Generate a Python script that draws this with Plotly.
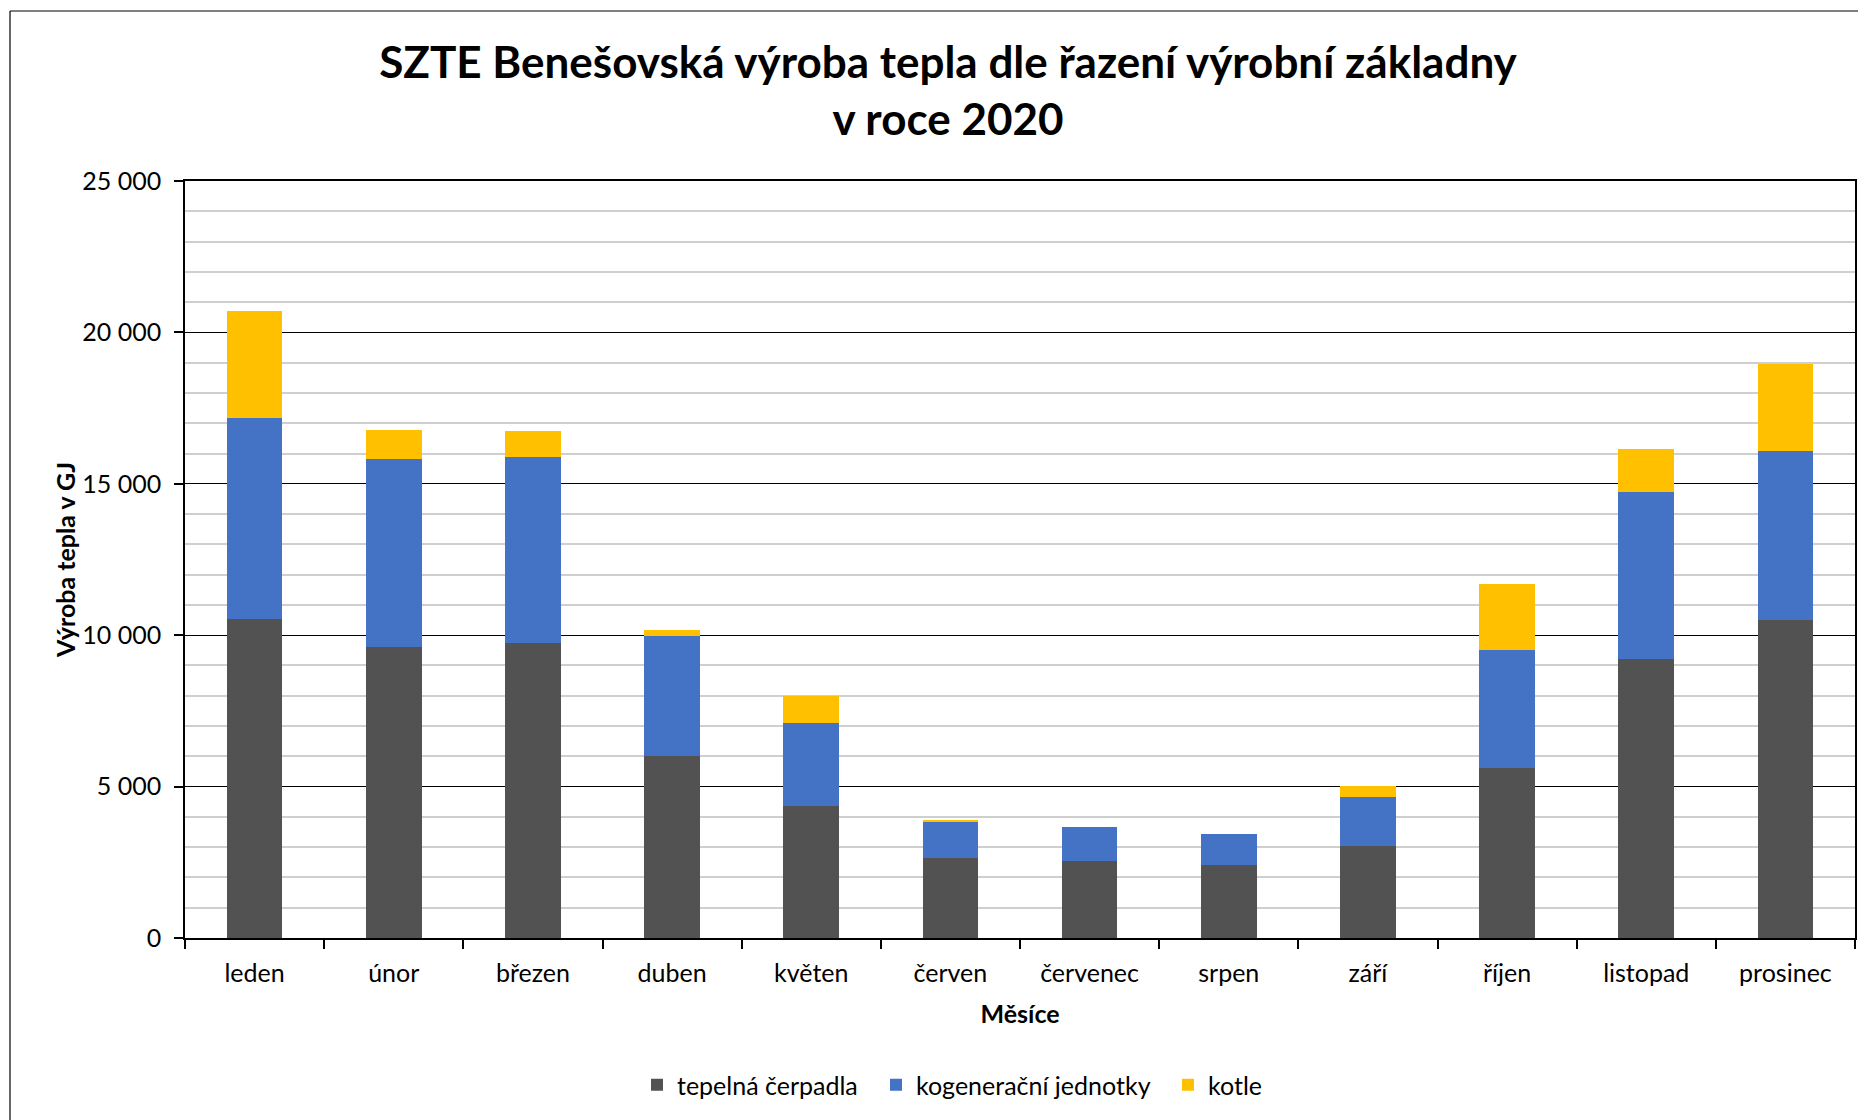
import plotly.graph_objects as go

months = ["leden", "únor", "březen", "duben", "květen", "červen",
          "červenec", "srpen", "září", "říjen", "listopad", "prosinec"]
tepelna_cerpadla = [10540, 9610, 9730, 6010, 4360, 2640, 2530, 2400, 3040, 5610, 9200, 10500]
kogeneracni_jednotky = [6640, 6200, 6140, 3970, 2740, 1210, 1130, 1050, 1620, 3910, 5520, 5580]
kotle = [3520, 960, 870, 190, 890, 60, 0, 0, 350, 2170, 1430, 2870]

series_names = ["tepelná čerpadla", "kogenerační jednotky", "kotle"]
series_colors = ["#525252", "#4472C4", "#FFC000"]

OFF = 8  # page body margin
W, H = 1866, 1120
L, R, T, B = 185 - OFF, 11 + OFF, 181 - OFF, 182 + OFF
PW, PH = W - L - R, H - T - B

def px_x(x):
    return (x - OFF - L) / PW

def px_y(y):
    return (H - B - (y - OFF)) / PH

FONT = "Lato"
legend_ids = ["legend", "legend2", "legend3"]
legend_px = [652, 890, 1182]  # screen x of each legend square (approx)

fig = go.Figure()
for name, vals, col, lg in zip(series_names, [tepelna_cerpadla, kogeneracni_jednotky, kotle], series_colors, legend_ids):
    fig.add_trace(go.Bar(x=months, y=vals, name=name, legend=lg, showlegend=True,
                         marker=dict(color=col, line=dict(width=0))))

legend_common = dict(orientation="h", xanchor="left", yanchor="middle", y=px_y(1085),
                     font=dict(family=FONT, size=25, color="black"), itemwidth=30,
                     bgcolor="rgba(0,0,0,0)", visible=True)

fig.update_layout(
    width=W, height=H,
    margin=dict(l=L, r=R, t=T, b=B, autoexpand=False),
    barmode="stack", bargap=0.6,
    showlegend=True,
    plot_bgcolor="white", paper_bgcolor="white",
    separators=", ",
    font=dict(family=FONT, size=25, color="black"),
    title=dict(
        text="<b>SZTE Benešovská výroba tepla dle řazení výrobní základny<br>v roce 2020</b>",
        font=dict(family=FONT, size=44, color="black"),
        x=(948 - OFF) / W, xref="container", xanchor="center",
        y=1 - 70 / H, yref="container", yanchor="middle",
    ),
    legend=dict(x=px_x(legend_px[0] - 15), **legend_common),
    legend2=dict(x=px_x(legend_px[1] - 14), **legend_common),
    legend3=dict(x=px_x(legend_px[2] - 14), **legend_common),
    xaxis=dict(
        showline=True, linecolor="black", linewidth=1.5, mirror=True,
        ticks="outside", tickson="boundaries", ticklen=9, tickcolor="black", tickwidth=1.5,
        ticklabelstandoff=12,
        showgrid=False,
        tickfont=dict(family=FONT, size=25, color="black"),
        title=dict(text="<b>Měsíce</b>", font=dict(family=FONT, size=25, color="black"), standoff=20),
    ),
    yaxis=dict(
        range=[0, 25000], dtick=5000, tickformat=",d",
        showline=True, linecolor="black", linewidth=1.5, mirror=True,
        ticks="outside", ticklen=9, tickcolor="black", tickwidth=1.5,
        ticklabelstandoff=8,
        showgrid=True, gridcolor="black", gridwidth=1.3,
        zeroline=False,
        minor=dict(dtick=1000, showgrid=True, gridcolor="#cfcfcf", gridwidth=1.5, ticks=""),
        tickfont=dict(family=FONT, size=25, color="black"),
        title=dict(text="<b>Výroba tepla v GJ</b>", font=dict(family=FONT, size=25, color="black"), standoff=0),
    ),
)

# outer chart frame (partially visible)
fx, fy = px_x(10), px_y(11)
fig.add_shape(type="line", xref="paper", yref="paper", x0=fx, x1=fx, y0=fy, y1=px_y(1200),
              line=dict(color="black", width=1.2))
fig.add_shape(type="line", xref="paper", yref="paper", x0=fx, x1=px_x(1950), y0=fy, y1=fy,
              line=dict(color="black", width=1.2))

fig.write_html("out.html")
